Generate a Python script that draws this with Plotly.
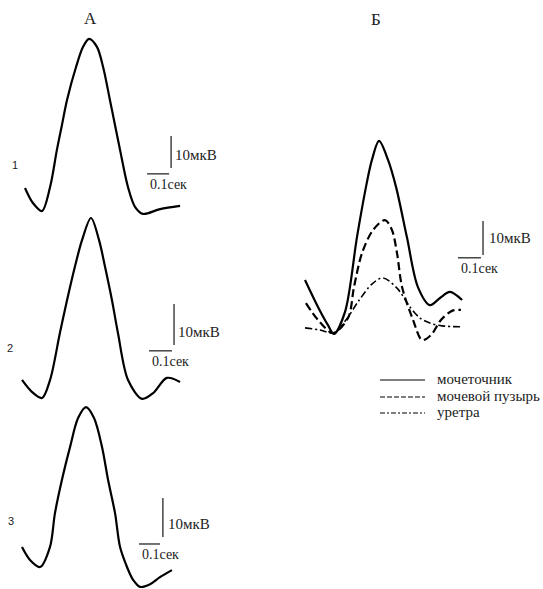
import plotly.graph_objects as go

W, H = 543, 589

# ---------------- data (time in ms, amplitude in µV) ----------------
# Panel A – three successive recordings
a1_t = [0, 36, 77, 114, 145, 168, 191, 232, 264, 291, 327, 355, 386, 409, 432, 468, 500, 536, 614, 705]
a1_v = [7.2, 2.5, 0, 7.5, 19.1, 26.9, 34.7, 45, 51.3, 53.8, 51.3, 45, 34.7, 26.9, 19.1, 7.5, 1.3, -0.9, 0.6, 1.6]

a2_t = [0, 43, 87, 122, 165, 196, 230, 261, 300, 335, 361, 391, 417, 461, 522, 570, 630, 687]
a2_v = [4.4, 1.5, 0, 4.4, 15.9, 23.9, 32, 38.5, 43.9, 38.5, 32, 23.9, 15.9, 4.4, -0.2, 1.2, 4.9, 3.9]

a3_t = [0, 38, 86, 133, 157, 190, 229, 267, 305, 343, 381, 410, 443, 467, 500, 529, 562, 610, 657, 714]
a3_v = [5.1, 1.8, 0, 5.1, 13.8, 22.3, 30.8, 38.2, 41, 38.2, 30.8, 22.3, 13.8, 5.1, 0, -3.3, -5.1, -4.4, -2.6, -0.8]

# Panel Б – three organs
b_ureter_t = [0, 57, 100, 126, 174, 226, 265, 291, 322, 361, 396, 443, 491, 543, 587, 630, 683]
b_ureter_v = [15.9, 7.9, 2.6, 0, 6.5, 28.5, 43.2, 51.2, 56.8, 51.2, 43.2, 28.5, 13.8, 8.5, 10.6, 12.4, 10]

b_bladder_t = [4, 57, 122, 187, 213, 248, 296, 348, 378, 400, 422, 470, 509, 548, 591, 639, 678]
b_bladder_v = [9.1, 4.1, 0.3, 4.7, 13.8, 23.8, 30.6, 33.5, 30.6, 23.8, 13.8, 4.1, -1.8, -0.3, 4.1, 6.8, 7.1]

b_urethra_t = [0, 65, 126, 178, 230, 291, 339, 400, 457, 500, 543, 596, 687]
b_urethra_v = [1.8, 1.2, 0.3, 4.1, 9.4, 14.7, 16.5, 13.5, 7.9, 4.7, 3.2, 2.4, 2.1]

legend_names = ["мочеточник", "мочевой пузырь", "уретра"]
panel_titles = ["А", "Б"]
row_labels = ["1", "2", "3"]
scale_v_label = "10мкВ"
scale_t_label = "0.1сек"
SCALE_UV = 10     # µV
SCALE_MS = 100    # ms

# ---------------- layout of panels (pixel boxes & scales) ----------------
panels = [
    dict(box=(10, 230, 30, 225), origin=(25, 211), scale=(0.22, 3.2),
         sb=dict(tv=664, vv=13.4, th=555, vh=11.6, tl=673, vl=17.5, tt=557, vt=8.4)),
    dict(box=(10, 230, 205, 405), origin=(22, 398), scale=(0.23, 4.1),
         sb=dict(tv=661, vv=12.9, th=552, vh=11.5, tl=670, vl=16.1, tt=557, vt=8.8)),
    dict(box=(10, 230, 395, 589), origin=(22, 567), scale=(0.21, 3.9),
         sb=dict(tv=671, vv=7.7, th=557, vh=5.9, tl=686, vl=11.0, tt=562, vt=3.3)),
    dict(box=(295, 543, 130, 350), origin=(305, 334), scale=(0.23, 3.4),
         sb=dict(tv=774, vv=23.2, th=665, vh=22.4, tl=791, vl=28.2, tt=670, vt=19.4)),
]

SERIF = "Liberation Serif"
fig = go.Figure()
annotations = []

for i, p in enumerate(panels, start=1):
    xk = "xaxis" if i == 1 else f"xaxis{i}"
    yk = "yaxis" if i == 1 else f"yaxis{i}"
    xa = "x" if i == 1 else f"x{i}"
    ya = "y" if i == 1 else f"y{i}"
    L, R, T, B = p["box"]
    x0, y0 = p["origin"]
    sx, sy = p["scale"]
    fig.update_layout({
        xk: dict(domain=[L / W, R / W], range=[(L - x0) / sx, (R - x0) / sx],
                 visible=False, anchor=ya, fixedrange=True),
        yk: dict(domain=[1 - B / H, 1 - T / H], range=[(y0 - B) / sy, (y0 - T) / sy],
                 visible=False, anchor=xa, fixedrange=True),
    })
    sb = p["sb"]
    # scale bars
    fig.add_trace(go.Scatter(x=[sb["tv"], sb["tv"]], y=[sb["vv"], sb["vv"] + SCALE_UV],
                             mode="lines", line=dict(color="black", width=1.1),
                             xaxis=xa, yaxis=ya, showlegend=False, hoverinfo="skip"))
    fig.add_trace(go.Scatter(x=[sb["th"], sb["th"] + SCALE_MS], y=[sb["vh"], sb["vh"]],
                             mode="lines", line=dict(color="black", width=1.1),
                             xaxis=xa, yaxis=ya, showlegend=False, hoverinfo="skip"))
    annotations.append(dict(x=sb["tl"], y=sb["vl"], xref=xa, yref=ya, text=scale_v_label,
                            showarrow=False, xanchor="left", yanchor="middle",
                            font=dict(family=SERIF, size=15, color="#222")))
    annotations.append(dict(x=sb["tt"], y=sb["vt"], xref=xa, yref=ya, text=scale_t_label,
                            showarrow=False, xanchor="left", yanchor="middle",
                            font=dict(family=SERIF, size=14, color="#222")))

wave_line = dict(color="black", width=2.2, shape="spline", smoothing=0.9)
for i, (t, v) in enumerate([(a1_t, a1_v), (a2_t, a2_v), (a3_t, a3_v)], start=1):
    xa = "x" if i == 1 else f"x{i}"
    ya = "y" if i == 1 else f"y{i}"
    fig.add_trace(go.Scatter(x=t, y=v, mode="lines", line=wave_line,
                             xaxis=xa, yaxis=ya, showlegend=False))

fig.add_trace(go.Scatter(x=b_ureter_t, y=b_ureter_v, mode="lines", name=legend_names[0],
                         line=dict(color="black", width=2.2, shape="spline", smoothing=0.9),
                         xaxis="x4", yaxis="y4", showlegend=False))
fig.add_trace(go.Scatter(x=b_bladder_t, y=b_bladder_v, mode="lines", name=legend_names[1],
                         line=dict(color="black", width=2.2, shape="spline", smoothing=0.9,
                                   dash="8px,4px"),
                         xaxis="x4", yaxis="y4", showlegend=False))
fig.add_trace(go.Scatter(x=b_urethra_t, y=b_urethra_v, mode="lines", name=legend_names[2],
                         line=dict(color="black", width=1.6, shape="spline", smoothing=0.9,
                                   dash="7px,3px,2px,3px"),
                         xaxis="x4", yaxis="y4", showlegend=False))

# ---------------- manual legend ----------------
legend_rows = [(380, "solid"), (397, "5px,2px"), (413, "5px,2px,2px,2px")]
shapes = []
for (yy, dash), name in zip(legend_rows, legend_names):
    shapes.append(dict(type="line", xref="paper", yref="paper",
                       x0=380 / W, x1=425 / W, y0=1 - yy / H, y1=1 - yy / H,
                       line=dict(color="black", width=1, dash=dash)))
    annotations.append(dict(x=435 / W, y=1 - (yy - 1) / H, xref="paper", yref="paper",
                            text=name, showarrow=False, xanchor="left", yanchor="middle",
                            font=dict(family=SERIF, size=15, color="#222")))

# panel titles and row numbers
annotations.append(dict(x=90 / W, y=1 - 19 / H, xref="paper", yref="paper", text=panel_titles[0],
                        showarrow=False, xanchor="center", yanchor="middle",
                        font=dict(family=SERIF, size=17, color="#222")))
annotations.append(dict(x=376 / W, y=1 - 20 / H, xref="paper", yref="paper", text=panel_titles[1],
                        showarrow=False, xanchor="center", yanchor="middle",
                        font=dict(family=SERIF, size=17, color="#222")))
for (xx, yy), lab in zip([(15, 165), (10, 348), (11, 521)], row_labels):
    annotations.append(dict(x=xx / W, y=1 - yy / H, xref="paper", yref="paper", text=lab,
                            showarrow=False, xanchor="center", yanchor="middle",
                            font=dict(family="Liberation Sans", size=11, color="#222")))

fig.update_layout(width=W, height=H, margin=dict(l=0, r=0, t=0, b=0),
                  paper_bgcolor="white", plot_bgcolor="rgba(0,0,0,0)",
                  showlegend=False, annotations=annotations, shapes=shapes)

fig.write_html("out.html", config={"displayModeBar": False, "staticPlot": True},
               post_script="document.body.style.margin='0';document.body.style.overflow='hidden';")
